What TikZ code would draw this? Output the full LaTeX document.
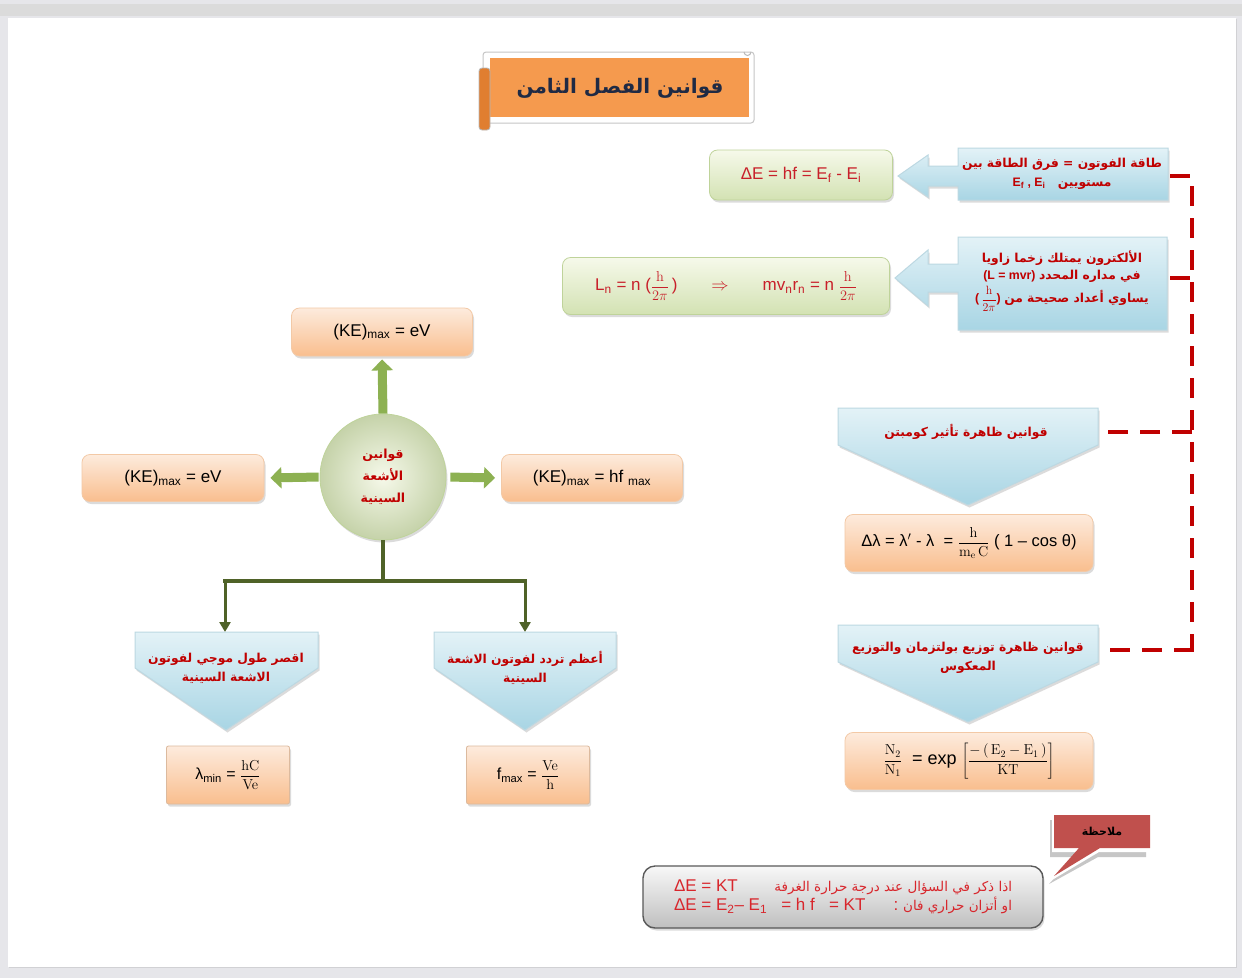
\documentclass[tikz,border=0pt]{standalone}
\usepackage[no-math]{fontspec}
\setmainfont{Liberation Sans}
\newfontfamily\arabicfont[Script=Arabic]{DejaVu Sans}
\TeXXeTstate=1
\usetikzlibrary{arrows.meta,shadows,shapes.geometric}
\definecolor{darkred}{HTML}{C00000}
\definecolor{fred}{HTML}{C8202A}
\definecolor{notetext}{HTML}{D8262C}
\definecolor{olivec}{HTML}{4F6228}
\definecolor{arrowgreen}{HTML}{8DB152}
\definecolor{navy}{HTML}{1F2A44}
\definecolor{titleor}{HTML}{F59A4E}
\definecolor{titleord}{HTML}{E07E30}
\definecolor{gtop}{HTML}{F6F9EA}
\definecolor{gbot}{HTML}{D3E2B3}
\definecolor{gbord}{HTML}{BFD39A}
\definecolor{otop}{HTML}{FDEBDD}
\definecolor{obot}{HTML}{F9BE8E}
\definecolor{obord}{HTML}{F3C9A6}
\definecolor{btop}{HTML}{E3F2F7}
\definecolor{bbot}{HTML}{A8D5E4}
\definecolor{bbord}{HTML}{BCD8E2}
\definecolor{notered}{HTML}{C0504D}
\definecolor{pagegray}{HTML}{E6E6EA}
\newcommand\arb[1]{{\arabicfont\bfseries\beginR #1\endR}}
\newcommand\arn[1]{{\arabicfont\beginR #1\endR}}
% display fraction at a given size
\newcommand\dfr[3]{{\fontsize{#1}{#1}\selectfont$\displaystyle\frac{\mathrm{#2}}{\mathrm{#3}}$}}
\begin{document}
\begin{tikzpicture}[x=1pt,y=-1pt,
  shd/.style={drop shadow={opacity=0.28,shadow xshift=1.5pt,shadow yshift=-2.5pt}},
  greenbox/.style={shd,rounded corners=8pt,draw=gbord,line width=0.8pt,top color=gtop,bottom color=gbot,text=fred,font=\fontsize{17}{20}\selectfont},
  orbox/.style={shd,rounded corners=8pt,draw=obord,line width=0.8pt,top color=otop,bottom color=obot,text=black,font=\fontsize{17}{20}\selectfont},
  sqbox/.style={orbox,rounded corners=2pt,draw=obord!80!gray},
  bluecall/.style={shd,draw=bbord,line width=1pt,top color=btop,bottom color=bbot},
  artext/.style={text=darkred,align=center,font=\bfseries\fontsize{12.3}{19}\selectfont},
  reddash/.style={draw=darkred,line width=3.8pt,dash pattern=on 20pt off 12pt},
  olivel/.style={draw=olivec,line width=3.8pt},
  blockarrow/.style={draw=arrowgreen,line width=9pt,-{Triangle[width=21pt,length=11pt]}},
  oarrow/.style={draw=olivec,line width=3pt,-{Triangle[width=11pt,length=10pt]}}
]
\useasboundingbox (0,0) rectangle (1242,978);
% page
\fill[pagegray] (0,0) rectangle (1242,978);
\fill[gray!28] (0,4) rectangle (1242,16);
\fill[white,drop shadow={opacity=0.2,shadow xshift=1pt,shadow yshift=-1pt}] (8,18) rectangle (1236,967);

% title scroll
\path[draw=gray!45,fill=white,line width=1pt,rounded corners=3pt] (483,52) rectangle (754,123);
\path[fill=titleor] (490,58) rectangle (749,117);
\path[draw=gray!55,fill=titleord,line width=0.8pt,rounded corners=3pt] (479,68) rectangle (490,130);
\draw[gray!55,line width=1pt] (744,52) arc[start angle=180,end angle=0,radius=3.5];
\node (title) at (620,88) {\color{navy}\fontsize{20}{24}\selectfont\arb{قوانين الفصل الثامن}};

% top right green boxes
\node[greenbox,minimum width=183pt,minimum height=50pt] (g1) at (801,175)
  {ΔE = hf = E\textsubscript{f} - E\textsubscript{i}};
\node[greenbox,minimum width=327pt,minimum height=57pt,font=\fontsize{17}{20}\selectfont] (g2) at (726,286)
  {L\textsubscript{n} = n (\dfr{14}{h}{2\pi}\,)\qquad$\Rightarrow$\qquad mv\textsubscript{n}r\textsubscript{n} = n \dfr{14}{h}{2\pi}};

% left-pointing callouts
\path[bluecall] (958,148) -- (1168,148) -- (1168,200) -- (958,200) -- (958,186) -- (928,186) -- (928,197) -- (898,176) -- (928,155) -- (928,166) -- (958,166) -- cycle;
\node[artext] (b1) at (1062,174) {\arb{طاقة الفوتون = فرق الطاقة بين}\\E\textsubscript{f} , E\textsubscript{i}\quad\arb{مستويين}};
\path[bluecall] (958,237) -- (1167,237) -- (1167,330) -- (958,330) -- (958,292) -- (928,292) -- (928,306) -- (895,278) -- (928,250) -- (928,264) -- (958,264) -- cycle;
\node[artext,font=\bfseries\fontsize{12.3}{17}\selectfont] (b2) at (1062,281) {\arb{الألكترون يمتلك زخما زاويا}\\(L = mvr) \arb{في مداره المحدد}\\[3pt](\,\dfr{12}{h}{2\pi}) \arb{يساوي أعداد صحيحة من}};

% Compton
\path[bluecall] (838,408) -- (1098,408) -- (1098,445) -- (968,505) -- (838,445) -- cycle;
\node[artext] (c1) at (966,432) {\arb{قوانين ظاهرة تأثير كومبتن}};
\node[orbox,minimum width=248pt,minimum height=57pt,font=\fontsize{16.5}{18}\selectfont] (c2) at (969,543)
  {Δλ = λ$'$ - λ\ \ = {\fontsize{14}{14}\selectfont$\displaystyle\frac{\mathrm h}{\mathrm{m_e\,C}}$} ( 1 – cos θ)};

% Boltzmann
\path[bluecall] (838,625) -- (1098,625) -- (1098,662) -- (968,722) -- (838,662) -- cycle;
\node[artext] (d1) at (968,658) {\arb{قوانين ظاهرة توزيع بولتزمان والتوزيع}\\\arb{المعكوس}};
\node[orbox,minimum width=248pt,minimum height=57pt,font=\fontsize{18}{18}\selectfont] (d2) at (969,761)
  {\dfr{14}{N_2}{N_1}\ \ = exp {\fontsize{14}{14}\selectfont$\displaystyle\left[\frac{-\,(\,\mathrm{E_2}-\mathrm{E_1}\,)}{\mathrm{KT}}\right]$}};

% red dashed bus
\coordinate (r1) at (1170,176);
\coordinate (r2) at (1170,278);
\coordinate (r3) at (1108,432);
\coordinate (r4) at (1108,650);
\coordinate (bt) at (1192,176);
\coordinate (bb) at (1192,650);
\draw[reddash] (r1) -- (bt) -- (bb);
\draw[reddash] ([yshift=-1.9pt]bb) -- (bb) -- (r4);
\draw[reddash] (r2) -- (r2 -| bt);
\draw[reddash] (r3 -| bt) -- (r3);

% X-ray centre
\node[circle,minimum size=126pt,draw=gbord,line width=0.8pt,inner color=gtop,outer color=gbot!92!black!95,shd] (xr) at (383,477) {};
\node[artext,font=\bfseries\fontsize{12.5}{22}\selectfont] (xrt) at (xr.center) {\arb{قوانين}\\\arb{الأشعة}\\\arb{السينية}};

\node[orbox,minimum width=181pt,minimum height=48pt] (ke1) at (382,332) {(KE)\textsubscript{max} = eV};
\node[orbox,minimum width=182pt,minimum height=47pt] (ke2) at (173,478) {(KE)\textsubscript{max} = eV};
\node[orbox,minimum width=181pt,minimum height=47pt] (ke3) at (592,478) {(KE)\textsubscript{max} = hf \textsubscript{max}};

\draw[blockarrow,shorten >=3pt] (xr.north) -- (ke1.south);
\draw[blockarrow,shorten >=6pt,shorten <=1pt] (xr.west) -- (ke2.east);
\draw[blockarrow,shorten >=6pt,shorten <=4pt] (xr.east) -- (ke3.west);

% olive tree
\coordinate (j) at (383,581);
\coordinate (jl) at (225,581);
\coordinate (jr) at (525,581);
\coordinate (lct) at (225,632);
\coordinate (rct) at (525,632);
\draw[olivel] (xr.south) -- (j);
\draw[olivel] ([xshift=-1.9pt]jl) -- ([xshift=1.9pt]jr);
\draw[oarrow] (jl) -- (lct);
\draw[oarrow] (jr) -- (rct);

% lower callouts
\path[bluecall] (135,632) -- (318,632) -- (318,668) -- (226,730) -- (135,668) -- cycle;
\node[artext] (lc) at (226,668) {\arb{اقصر طول موجي لفوتون}\\\arb{الاشعة السينية}};
\path[bluecall] (434,632) -- (616,632) -- (616,668) -- (525,730) -- (434,668) -- cycle;
\node[artext] (rc) at (525,668) {\arb{أعظم تردد لفوتون الاشعة}\\\arb{السينية}};

\node[sqbox,minimum width=123pt,minimum height=58pt,font=\fontsize{16}{18}\selectfont] (lam) at (228,775)
  {λ\textsubscript{min} = \dfr{14}{hC}{Ve}};
\node[sqbox,minimum width=123pt,minimum height=58pt,font=\fontsize{16}{18}\selectfont] (fm) at (528,775)
  {f\textsubscript{max} = \dfr{14}{Ve}{h}};

% note callout
\path[fill=gray!45] (1050,820) -- (1146,820) -- (1146,857) -- (1098,857) -- (1049,884) -- (1074,857) -- (1050,857) -- cycle;
\path[fill=white] (1052,818) -- (1149,818) -- (1149,852) -- (1099,852) -- (1052,880) -- (1077,852) -- (1052,852) -- cycle;
\path[fill=notered] (1054,815) -- (1150,815) -- (1150,848) -- (1100,848) -- (1054,876) -- (1079,848) -- (1054,848) -- cycle;
\node (nt) at (1102,831) {\fontsize{11}{13}\selectfont\arb{ملاحظة}};

% note box
\node[shd,rounded corners=12pt,draw=gray!70!black,line width=1.4pt,top color=gray!6,bottom color=gray!50,
  minimum width=400pt,minimum height=62pt,align=center,text=notetext,font=\fontsize{17}{19}\selectfont] (nb) at (843,897)
  {\makebox[338pt]{ΔE = KT\hfill{\fontsize{13.5}{19}\selectfont\arn{اذا ذكر في السؤال عند درجة حرارة الغرفة}}}\\
   \makebox[338pt]{ΔE = E\textsubscript{2}– E\textsubscript{1}\ \ \ = h f\ \ \ = KT\hfill:\ {\fontsize{13.5}{19}\selectfont\arn{او أتزان حراري فان}}}};
\end{tikzpicture}
\end{document}
